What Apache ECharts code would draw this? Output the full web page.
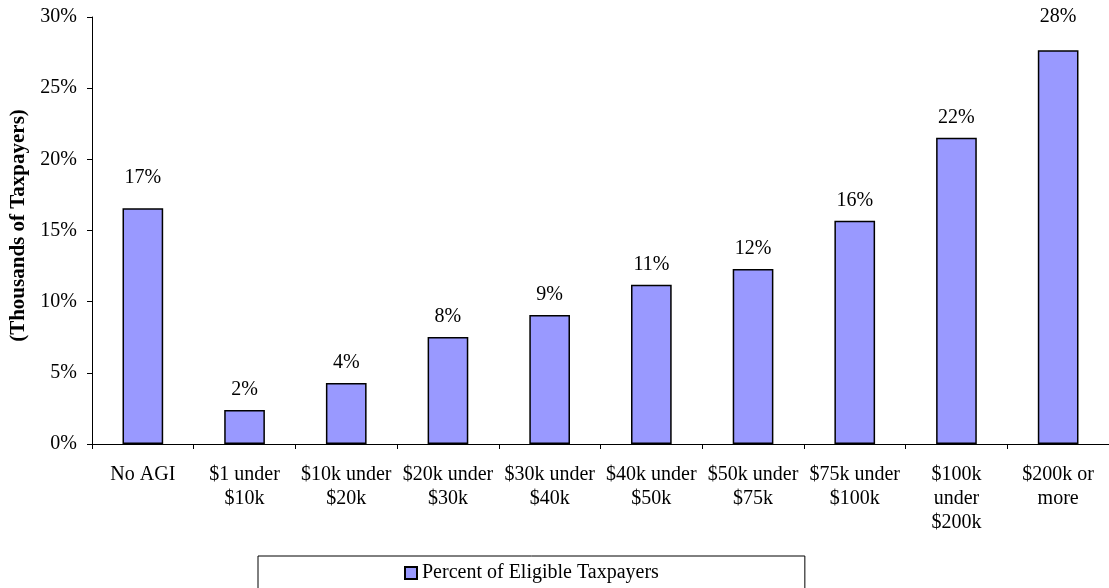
<!DOCTYPE html>
<html>
<head>
<meta charset="utf-8">
<title>Percent of Eligible Taxpayers</title>
<script src="https://cdn.jsdelivr.net/npm/echarts@6/dist/echarts.min.js"></script>
<style>
  html, body { margin: 0; padding: 0; background: #fff; }
  #main { width: 1109px; height: 588px; }
</style>
</head>
<body>
<div id="main"></div>
<script>
// data
var categories = [
  'No AGI', '$1 under\n$10k', '$10k under\n$20k', '$20k under\n$30k',
  '$30k under\n$40k', '$40k under\n$50k', '$50k under\n$75k',
  '$75k under\n$100k', '$100k\nunder\n$200k', '$200k or\nmore'
]
var percentEligible = [16.56, 2.39, 4.28, 7.52, 9.07, 11.18, 12.3, 15.69, 21.52, 27.66]
var yTicks = [0, 5, 10, 15, 20, 25, 30]

var font = 'Liberation Serif, Times New Roman, serif'
var chart = echarts.init(document.getElementById('main'))

// two labels sit a bit higher in the original
var labelLift = [11, 0, 0, 0, 0, 0, 0, 0, 0, 14]

var option = {
  animation: false,
  textStyle: { fontFamily: font, color: '#000' },
  grid: {
    left: 92,
    right: 0,
    top: 17,
    bottom: 144
  },
  xAxis: {
    type: 'category',
    data: categories,
    axisLine: { lineStyle: { color: '#000', width: 1 } },
    axisTick: { show: true, length: 5, interval: 0, lineStyle: { color: '#000' } },
    axisLabel: {
      interval: 0,
      margin: 19,
      fontSize: 20,
      lineHeight: 24,
      color: '#000',
      fontFamily: font
    }
  },
  yAxis: {
    type: 'value',
    min: yTicks[0],
    max: yTicks[yTicks.length - 1],
    interval: 5,
    name: '(Thousands of Taxpayers)',
    nameLocation: 'middle',
    nameRotate: 90,
    nameGap: 62,
    nameTextStyle: {
      fontSize: 21,
      fontWeight: 'bold',
      color: '#000',
      fontFamily: font,
      padding: [0, 0, 0, 10]
    },
    axisLine: { show: true, lineStyle: { color: '#000', width: 1 } },
    axisTick: { show: true, length: 5, lineStyle: { color: '#000' } },
    splitLine: { show: false },
    axisLabel: {
      margin: 15,
      fontSize: 20,
      color: '#000',
      fontFamily: font,
      formatter: '{value}%'
    }
  },
  legend: {
    left: 258,
    top: 556,
    padding: [7, 146, 7, 146],
    borderColor: '#000',
    borderWidth: 1,
    itemWidth: 12,
    itemHeight: 12,
    icon: 'rect',
    textStyle: { fontSize: 20, lineHeight: 20, color: '#000', fontFamily: font },
    data: ['Percent of Eligible Taxpayers']
  },
  series: [
    {
      name: 'Percent of Eligible Taxpayers',
      type: 'bar',
      barWidth: '40%',
      itemStyle: {
        color: '#9999FF',
        borderColor: '#000',
        borderWidth: 1.5
      },
      label: {
        show: true,
        position: 'top',
        fontSize: 20,
        color: '#000',
        fontFamily: font,
        formatter: function (p) { return Math.round(p.value) + '%' }
      },
      data: percentEligible.map(function (v, i) {
        return { value: v, label: { distance: 10 + labelLift[i] } }
      })
    }
  ]
}
option && chart.setOption(option)
</script>
</body>
</html>
